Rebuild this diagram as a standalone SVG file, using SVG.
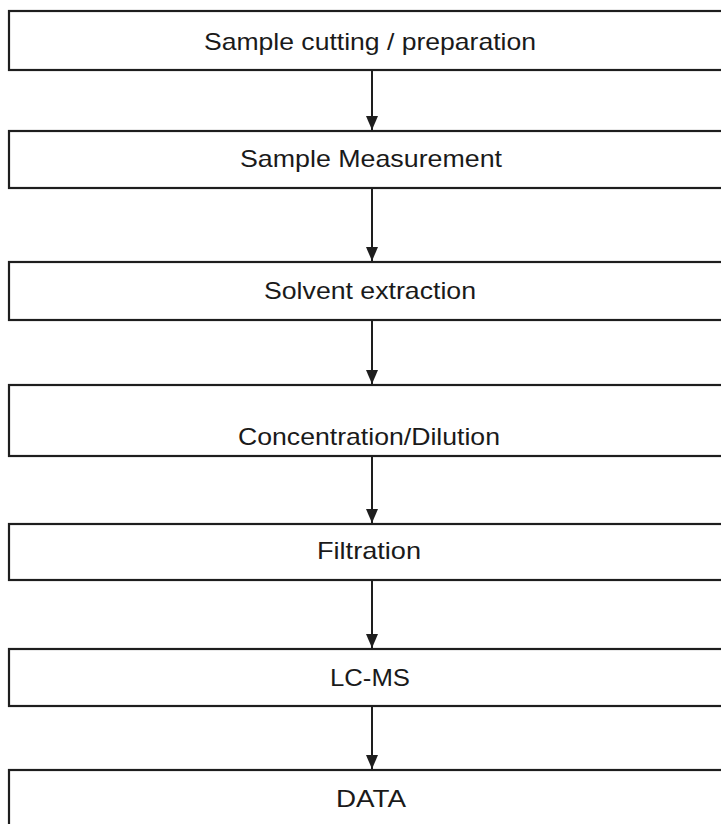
<svg xmlns="http://www.w3.org/2000/svg" width="721" height="824" viewBox="0 0 721 824">
<style>
.box{fill:#fff;stroke:#1e1e1e;stroke-width:2.2}
.lbl{font-family:"Liberation Sans",Arial,sans-serif;font-size:24px;fill:#1a1a1a;text-anchor:middle}
.con{stroke:#1e1e1e;stroke-width:2;fill:none;marker-end:url(#ah)}
</style>
<defs>
<marker id="ah" markerUnits="userSpaceOnUse" markerWidth="14" markerHeight="12" refX="14" refY="6" orient="auto" viewBox="0 0 14 12">
<path d="M0,0 L14,6 L0,12 Z" fill="#1e1e1e"/>
</marker>
</defs>
<rect width="721" height="824" fill="#fff"/>
<g id="n1"><rect class="box" x="9" y="11" width="730" height="59"/><text class="lbl" x="370" y="50" textLength="332" lengthAdjust="spacingAndGlyphs">Sample cutting / preparation</text></g>
<g id="n2"><rect class="box" x="9" y="131" width="730" height="57"/><text class="lbl" x="371" y="167" textLength="262" lengthAdjust="spacingAndGlyphs">Sample Measurement</text></g>
<g id="n3"><rect class="box" x="9" y="262" width="730" height="58"/><text class="lbl" x="370" y="299" textLength="212" lengthAdjust="spacingAndGlyphs">Solvent extraction</text></g>
<g id="n4"><rect class="box" x="9" y="385" width="730" height="71"/><text class="lbl" x="369" y="445" textLength="262" lengthAdjust="spacingAndGlyphs">Concentration/Dilution</text></g>
<g id="n5"><rect class="box" x="9" y="524" width="730" height="56"/><text class="lbl" x="369" y="559" textLength="104" lengthAdjust="spacingAndGlyphs">Filtration</text></g>
<g id="n6"><rect class="box" x="9" y="649" width="730" height="57"/><text class="lbl" x="370" y="686" textLength="80" lengthAdjust="spacingAndGlyphs">LC-MS</text></g>
<g id="n7"><rect class="box" x="9" y="770" width="730" height="70"/><text class="lbl" x="371" y="807" textLength="70" lengthAdjust="spacingAndGlyphs">DATA</text></g>
<g id="connectors">
<line class="con" x1="372" y1="71" x2="372" y2="130"/>
<line class="con" x1="372" y1="189" x2="372" y2="261"/>
<line class="con" x1="372" y1="321" x2="372" y2="384"/>
<line class="con" x1="372" y1="457" x2="372" y2="523"/>
<line class="con" x1="372" y1="581" x2="372" y2="648"/>
<line class="con" x1="372" y1="707" x2="372" y2="769"/>
</g>
</svg>
